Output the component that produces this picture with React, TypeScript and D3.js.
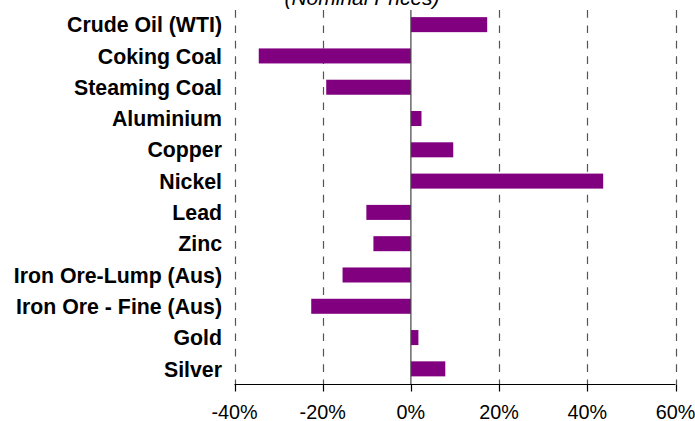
import React from "react";
import * as d3 from "d3";

const categories = [
  "Crude Oil (WTI)",
  "Coking Coal",
  "Steaming Coal",
  "Aluminium",
  "Copper",
  "Nickel",
  "Lead",
  "Zinc",
  "Iron Ore-Lump (Aus)",
  "Iron Ore - Fine (Aus)",
  "Gold",
  "Silver",
];
const values = [17.3, -34.5, -19.2, 2.4, 9.6, 43.6, -10.1, -8.5, -15.5, -22.6, 1.7, 7.8];
const ticks = [-40, -20, 0, 20, 40, 60];
const title = "(Nominal Prices)";

const W = 695;
const H = 421;
const left = 234.5;
const right = 675.5;
const top = 9;
const bottom = 384.5;

export default function App() {
  const x = d3.scaleLinear().domain([-40, 60]).range([left, right]);
  const y = d3.scaleBand<string>().domain(categories).range([top, bottom]).paddingInner(0.52).paddingOuter(0.26);
  const x0 = x(0);

  return (
    <div style={{ position: "absolute", left: 0, top: 0 }}>
      <svg width={W} height={H} style={{ display: "block", fontFamily: "Liberation Sans, Arial, sans-serif" }}>
        <rect width={W} height={H} fill="#fff" />
        <text x={362} y={4.5} textAnchor="middle" fontStyle="italic" fontSize={21} fill="#000">
          {title}
        </text>
        {ticks
          .filter((t) => t !== 0)
          .map((t) => (
            <line
              key={"g" + t}
              x1={Math.round(x(t)) + 0.5}
              x2={Math.round(x(t)) + 0.5}
              y1={10}
              y2={bottom}
              stroke="#555"
              strokeWidth={1.2}
              strokeDasharray="7.7,7.7"
            />
          ))}
        {categories.map((c, i) => {
          const v = values[i];
          const bx = Math.min(x(v), x0);
          const bw = Math.abs(x(v) - x0);
          return <rect key={c} x={bx} y={y(c)!} width={bw} height={y.bandwidth()} fill="#800080" />;
        })}
        <line x1={x0} x2={x0} y1={10} y2={bottom} stroke="#444" strokeWidth={1.2} />
        <line x1={left} x2={right} y1={bottom} y2={bottom} stroke="#000" strokeWidth={1.2} />
        {ticks.map((t) => (
          <g key={"t" + t}>
            <line x1={Math.round(x(t)) + 0.5} x2={Math.round(x(t)) + 0.5} y1={bottom} y2={391.5} stroke="#000" strokeWidth={1.2} />
            <text x={x(t)} y={418.5} textAnchor="middle" fontSize={19.8} fill="#000">
              {t + "%"}
            </text>
          </g>
        ))}
        {categories.map((c) => (
          <text
            key={"l" + c}
            x={222}
            y={y(c)! + y.bandwidth() / 2}
            dy="0.36em"
            textAnchor="end"
            fontSize={21.3}
            fontWeight="bold"
            fill="#000"
          >
            {c}
          </text>
        ))}
      </svg>
    </div>
  );
}
